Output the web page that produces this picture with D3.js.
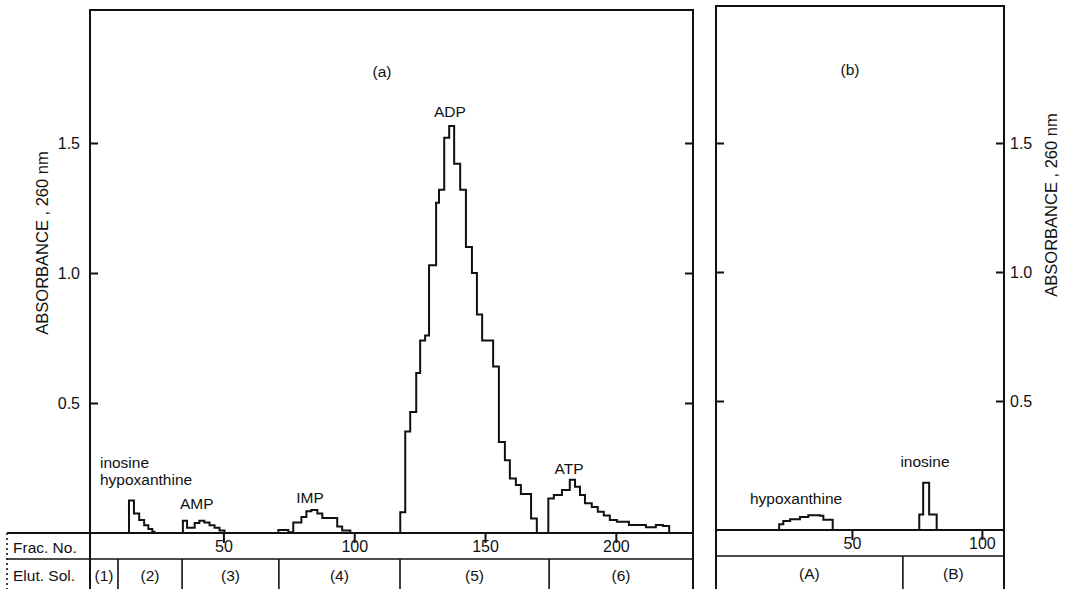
<!DOCTYPE html>
<html lang="en">
<head>
<meta charset="UTF-8">
<title>Elution profile, absorbance at 260 nm</title>
<script src="https://d3js.org/d3.v7.min.js"></script>
<style>
    body { margin: 0; background: #fff; }
    svg { display: block; font-family: "Liberation Sans", Arial, sans-serif; }
    .frame { fill: none; stroke: #111; stroke-width: 2; }
    .rule { stroke: #111; stroke-width: 1.6; }
    .trace { fill: none; stroke: #111; stroke-width: 2; stroke-linejoin: miter; }
    .axis text { font-family: "Liberation Sans", Arial, sans-serif; font-size: 16px; fill: #111; }
    .axis line { stroke: #111; stroke-width: 2; }
    .lbl { font-size: 15.5px; fill: #111; }
    .ttl { font-size: 16.5px; fill: #111; }
</style>
</head>
<body>
<svg id="chart" width="1069" height="589"></svg>
<script>
// ---- data (fraction number edges, absorbance per step) ----
// panel (a)
var inoHypoFrac = [13.9, 15.8, 17.8, 19.7, 21.3, 22.8, 23.6];
var inoHypoAbs  = [0.125, 0.075, 0.05, 0.03, 0.015, 0.005];

var ampFrac = [34.5, 36.1, 39.0, 40.8, 42.7, 44.7, 46.6, 48.5, 50.4];
var ampAbs  = [0.047, 0.02, 0.038, 0.047, 0.04, 0.03, 0.02, 0.01];

var impFrac = [71.0, 74.8, 76.7, 79.8, 81.7, 83.6, 85.9, 87.8, 93.5, 95.4, 98.5];
var impAbs  = [0.012, 0.003, 0.04, 0.062, 0.084, 0.088, 0.075, 0.058, 0.025, 0.01];

var adpFrac = [117.6, 119.5, 121.4, 123.7, 125.2, 127.1, 128.6, 131.3, 132.4, 134.4, 136.3, 138.2,
               140.5, 142.7, 145.0, 146.9, 148.9, 153.1, 155.3, 157.6, 159.5, 161.8, 163.7, 167.6, 169.8];
var adpAbs  = [0.08, 0.39, 0.465, 0.615, 0.74, 0.76, 1.03, 1.27, 1.32, 1.52, 1.565, 1.42,
               1.32, 1.10, 1.00, 0.84, 0.74, 0.64, 0.35, 0.28, 0.21, 0.185, 0.15, 0.056];

var atpFrac = [174.2, 176.3, 179.4, 182.4, 184.4, 186.3, 188.2, 190.8, 193.1, 195.4, 197.7, 200.4,
               205.0, 211.5, 215.3, 218.0, 220.4];
var atpAbs  = [0.133, 0.146, 0.165, 0.205, 0.178, 0.146, 0.114, 0.10, 0.082, 0.067, 0.05, 0.043,
               0.031, 0.022, 0.031, 0.027];

// panel (b)
var hypoBFrac = [22, 23.6, 26.2, 30, 33.2, 37.7, 39, 42.6];
var hypoBAbs  = [0.022, 0.035, 0.042, 0.05, 0.057, 0.055, 0.04];

var inoBFrac = [75.9, 77.4, 79.7, 82.6];
var inoBAbs  = [0.06, 0.183, 0.06];

// ticks and table
var absTicks = [0.5, 1.0, 1.5];
var fracTicksA = [50, 100, 150, 200];
var fracTicksB = [50, 100];

var elutNamesA = ["(1)", "(2)", "(3)", "(4)", "(5)", "(6)"];
var elutEdgesA = [-1, 9.7, 34.2, 71.2, 117.5, 174.5, 229.5];
var elutNamesB = ["(A)", "(B)"];
var elutEdgesB = [-2.3, 69.6, 108.5];

// peak names and where they sit (fraction, absorbance)
var peakNamesA = ["inosine", "hypoxanthine", "AMP", "IMP", "ADP", "ATP"];
var peakFracA  = [2.8, 2.8, 39.8, 83.1, 136.6, 182.1];
var peakAbsA   = [0.273, 0.204, 0.115, 0.138, 1.623, 0.25];
var peakNamesB = ["hypoxanthine", "inosine"];
var peakFracB  = [28.5, 78.1];
var peakAbsB   = [0.124, 0.264];

// ---- layout ----
var svg = d3.select("#chart");
var topA = 10, topB = 6, bottom = 592;
var rowA = 559, rowB = 556;  // split between Frac. No. and Elut. Sol.

var xA = d3.scaleLinear().domain([-1, 229.5]).range([90, 693]);
var yA = d3.scaleLinear().domain([0, 2]).range([533, 13]);
var xB = d3.scaleLinear().domain([-2.3, 108.5]).range([716, 1004]);
var yB = d3.scaleLinear().domain([0, 2]).range([530, 14]);

function stepPoints(edges, vals) {
    var pts = [[edges[0], 0]];
    vals.forEach(function(v, i) { pts.push([edges[i], v]); });
    pts.push([edges[edges.length - 1], 0]);
    return pts;
}

function drawPanel(x, y, top, rowY, opts) {
    var g = svg.append("g");
    var x0 = x.range()[0], x1 = x.range()[1], base = y(0);

    // traces
    var line = d3.line()
        .x(function(d) { return x(d[0]); })
        .y(function(d) { return y(d[1]); })
        .curve(d3.curveStepAfter);
    opts.traces.forEach(function(t) {
        g.append("path").attr("class", "trace").attr("d", line(stepPoints(t[0], t[1])));
    });

    // left axis (ticks inward)
    g.append("g").attr("class", "axis")
        .attr("transform", "translate(" + x0 + ",0)")
        .call(d3.axisLeft(y).tickValues(absTicks).tickSize(-8).tickPadding(10)
            .tickFormat(opts.leftLabels ? d3.format(".1f") : ""))
        .call(function(a) { a.select(".domain").remove(); });

    // right axis (ticks inward)
    g.append("g").attr("class", "axis")
        .attr("transform", "translate(" + x1 + ",0)")
        .call(d3.axisRight(y).tickValues(absTicks).tickSize(-8).tickPadding(6)
            .tickFormat(opts.rightLabels ? d3.format(".1f") : ""))
        .call(function(a) { a.select(".domain").remove(); });

    // fraction axis inside table row
    g.append("g").attr("class", "axis")
        .attr("transform", "translate(0," + base + ")")
        .call(d3.axisBottom(x).tickValues(opts.fracTicks).tickSize(10).tickPadding(-2).tickFormat(d3.format("d")))
        .call(function(a) { a.select(".domain").remove(); });

    // frame
    g.append("path").attr("class", "frame")
        .attr("d", "M" + x0 + "," + bottom + "V" + top + "H" + x1 + "V" + bottom);
    g.append("line").attr("class", "frame")
        .attr("x1", opts.tableLeft).attr("x2", x1).attr("y1", base).attr("y2", base);
    g.append("line").attr("class", "rule")
        .attr("x1", opts.tableLeft).attr("x2", x1).attr("y1", rowY).attr("y2", rowY);

    // elution cells
    opts.elutEdges.slice(1, -1).forEach(function(e) {
        g.append("line").attr("class", "rule")
            .attr("x1", x(e)).attr("x2", x(e)).attr("y1", rowY).attr("y2", bottom);
    });
    opts.elutNames.forEach(function(n, i) {
        g.append("text").attr("class", "lbl")
            .attr("x", (x(opts.elutEdges[i]) + x(opts.elutEdges[i + 1])) / 2)
            .attr("y", (rowY + 589) / 2 + 1)
            .attr("text-anchor", "middle").attr("dominant-baseline", "central")
            .text(n);
    });

    // peak names
    opts.peakNames.forEach(function(n, i) {
        g.append("text").attr("class", "lbl")
            .attr("x", x(opts.peakFrac[i])).attr("y", y(opts.peakAbs[i]))
            .attr("text-anchor", opts.peakFrac[i] < 5 ? "start" : "middle")
            .attr("dominant-baseline", "central")
            .text(n);
    });

    // panel letter
    g.append("text").attr("class", "lbl")
        .attr("x", opts.letterX).attr("y", opts.letterY)
        .attr("text-anchor", "middle").attr("dominant-baseline", "central")
        .text(opts.letter);

    return g;
}

drawPanel(xA, yA, topA, rowA, {
    traces: [[inoHypoFrac, inoHypoAbs], [ampFrac, ampAbs], [impFrac, impAbs], [adpFrac, adpAbs], [atpFrac, atpAbs]],
    leftLabels: true, rightLabels: false,
    fracTicks: fracTicksA, tableLeft: 7,
    elutEdges: elutEdgesA, elutNames: elutNamesA,
    peakNames: peakNamesA, peakFrac: peakFracA, peakAbs: peakAbsA,
    letter: "(a)", letterX: 382, letterY: 71
});

drawPanel(xB, yB, topB, rowB, {
    traces: [[hypoBFrac, hypoBAbs], [inoBFrac, inoBAbs]],
    leftLabels: false, rightLabels: true,
    fracTicks: fracTicksB, tableLeft: 716,
    elutEdges: elutEdgesB, elutNames: elutNamesB,
    peakNames: peakNamesB, peakFrac: peakFracB, peakAbs: peakAbsB,
    letter: "(b)", letterX: 850, letterY: 69
});

// row captions of the table (left of panel a)
svg.append("line").attr("class", "rule").attr("stroke-dasharray", "2,3")
    .attr("x1", 7).attr("x2", 7).attr("y1", 533).attr("y2", 589);
svg.append("text").attr("class", "lbl").attr("x", 13).attr("y", 547)
    .attr("dominant-baseline", "central").text("Frac. No.");
svg.append("text").attr("class", "lbl").attr("x", 13).attr("y", 575)
    .attr("dominant-baseline", "central").text("Elut. Sol.");

// y titles
svg.append("text").attr("class", "ttl")
    .attr("transform", "translate(42,243) rotate(-90)")
    .attr("text-anchor", "middle").attr("dominant-baseline", "central")
    .text("ABSORBANCE , 260 nm");
svg.append("text").attr("class", "ttl")
    .attr("transform", "translate(1051,205) rotate(-90)")
    .attr("text-anchor", "middle").attr("dominant-baseline", "central")
    .text("ABSORBANCE , 260 nm");
</script>
</body>
</html>
